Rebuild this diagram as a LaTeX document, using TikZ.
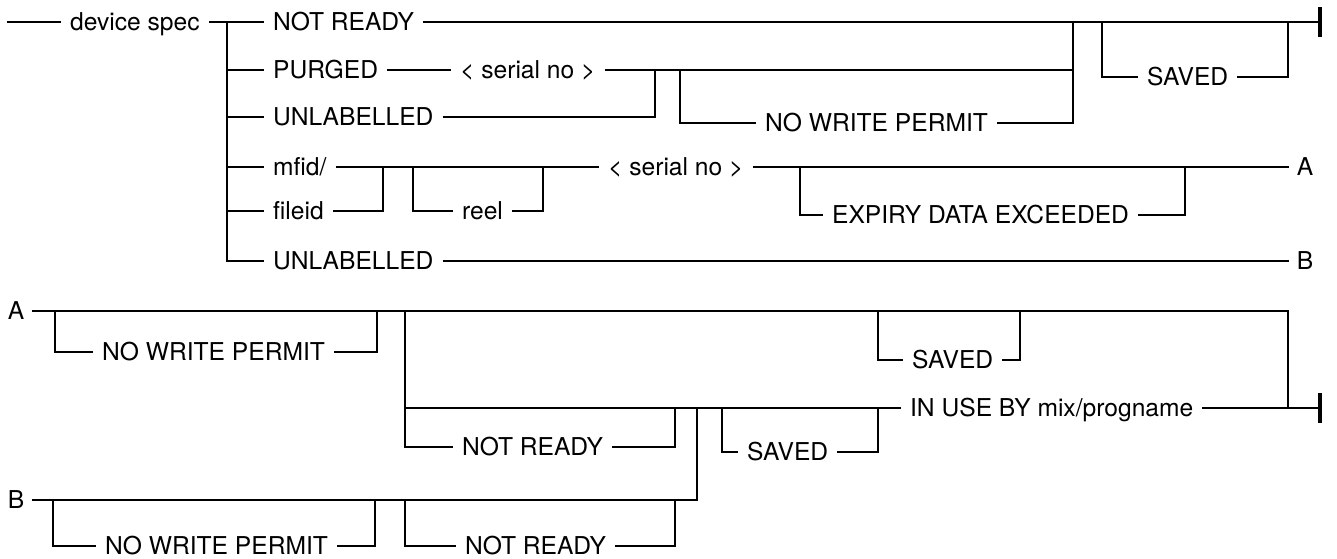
\documentclass[tikz,border=0pt]{standalone}
\usepackage{fontspec}
\setmainfont{TeX Gyre Heros}

\tikzset{
  rail/.style={line width=1.3pt,line join=miter},
  endbar/.style={line width=2.4pt},
  lbl/.style={font=\fontsize{14}{16}\selectfont,inner xsep=5pt,inner ysep=0pt,
    text height=10pt,text depth=0pt,anchor=west},
  tag/.style={font=\fontsize{14}{16}\selectfont,inner xsep=4pt,inner ysep=0pt,
    text height=10pt,text depth=0pt}
}

\begin{document}
\begin{tikzpicture}[x=0.02cm,y=-0.02cm]
\useasboundingbox (0,0) rectangle (1337,558);

% upper diagram
\coordinate (s0) at (7,22);
\node[lbl] (dev) at (61,22) {device spec};
\coordinate (t1) at (227,22);
\coordinate (t6) at (227,261);
\node[lbl] (nr1) at (264,22) {NOT READY};
\node[lbl] (pg) at (264,70) {PURGED};
\node[lbl] (ul1) at (264,117) {UNLABELLED};
\node[lbl] (mf) at (264,167) {mfid/};
\node[lbl] (fi) at (264,211) {fileid};
\node[lbl] (ul2) at (264,261) {UNLABELLED};
\node[lbl] (sn1) at (451,70) {< serial no >};
\node[lbl] (nwp1) at (756,123) {NO WRITE PERMIT};
\node[lbl] (sv1) at (1138,77) {SAVED};
\node[lbl] (rl) at (453,211) {reel};
\node[lbl] (sn2) at (599,167) {< serial no >};
\node[lbl] (ex) at (823,215) {EXPIRY DATA EXCEEDED};
\node[tag] (la) at (1305,167) {A};
\node[tag] (lb) at (1305,261) {B};
\coordinate (j1) at (1073,22);
\coordinate (j2) at (655,70);
\coordinate (j3) at (680,70);
\coordinate (j4) at (1102,22);
\coordinate (j5) at (1288,22);
\coordinate (j6) at (383,167);
\coordinate (j7) at (413,167);
\coordinate (j8) at (543,167);
\coordinate (j9) at (800,167);
\coordinate (j10) at (1185,167);
\coordinate (e1) at (1320,22);

\draw[rail] (s0) -- (dev.west);
\draw[rail] (dev.east) -- (t1) -- (t6) -- (ul2.west);
\draw[rail] (t1) -- (nr1.west);
\draw[rail] (t1 |- pg.west) -- (pg.west);
\draw[rail] (t1 |- ul1.west) -- (ul1.west);
\draw[rail] (t1 |- mf.west) -- (mf.west);
\draw[rail] (t1 |- fi.west) -- (fi.west);
\draw[rail] (nr1.east) -- (e1);
\draw[rail] (pg.east) -- (sn1.west);
\draw[rail] (sn1.east) -| (j1);
\draw[rail] (ul1.east) -| (j2);
\draw[rail] (j3) |- (nwp1.west);
\draw[rail] (nwp1.east) -| (j1);
\draw[rail] (j4) |- (sv1.west);
\draw[rail] (sv1.east) -| (j5);
\draw[rail] (mf.east) -- (sn2.west);
\draw[rail] (fi.east) -| (j6);
\draw[rail] (j7) |- (rl.west);
\draw[rail] (rl.east) -| (j8);
\draw[rail] (sn2.east) -- (la.west);
\draw[rail] (j9) |- (ex.west);
\draw[rail] (ex.east) -| (j10);
\draw[rail] (ul2.east) -- (lb.west);
\draw[endbar] (e1) ++(0,-15) -- ++(0,30);

% lower diagram
\node[tag] (la2) at (16,311) {A};
\node[tag] (lb2) at (16,500) {B};
\node[lbl] (nwp2) at (93,352) {NO WRITE PERMIT};
\node[lbl] (sv2) at (903,360) {SAVED};
\node[lbl] (iu) at (901,408) {IN USE BY mix/progname};
\node[lbl] (nr2) at (453,447) {NOT READY};
\node[lbl] (sv3) at (738,452) {SAVED};
\node[lbl] (nwp3) at (96,546) {NO WRITE PERMIT};
\node[lbl] (nr3) at (456,546) {NOT READY};
\coordinate (k1) at (405,311);
\coordinate (k2) at (1288,311);
\coordinate (k3) at (55,311);
\coordinate (k4) at (377,311);
\coordinate (k5) at (878,311);
\coordinate (k6) at (1020,311);
\coordinate (k7) at (675,408);
\coordinate (k8) at (722,408);
\coordinate (k9) at (878,408);
\coordinate (k10) at (697,408);
\coordinate (k11) at (53,500);
\coordinate (k12) at (375,500);
\coordinate (k13) at (405,500);
\coordinate (k14) at (675,500);
\coordinate (e2) at (1320,408);

\draw[rail] (la2.east) -- (k2) |- (e2);
\draw[rail] (k3) |- (nwp2.west);
\draw[rail] (nwp2.east) -| (k4);
\draw[rail] (k5) |- (sv2.west);
\draw[rail] (sv2.east) -| (k6);
\draw[rail] (k1) |- (iu.west);
\draw[rail] (iu.east) -- (e2);
\draw[rail] (k1) |- (nr2.west);
\draw[rail] (nr2.east) -| (k7);
\draw[rail] (k8) |- (sv3.west);
\draw[rail] (sv3.east) -| (k9);
\draw[rail] (lb2.east) -| (k10);
\draw[rail] (k11) |- (nwp3.west);
\draw[rail] (nwp3.east) -| (k12);
\draw[rail] (k13) |- (nr3.west);
\draw[rail] (nr3.east) -| (k14);
\draw[endbar] (e2) ++(0,-15) -- ++(0,30);
\end{tikzpicture}
\end{document}
